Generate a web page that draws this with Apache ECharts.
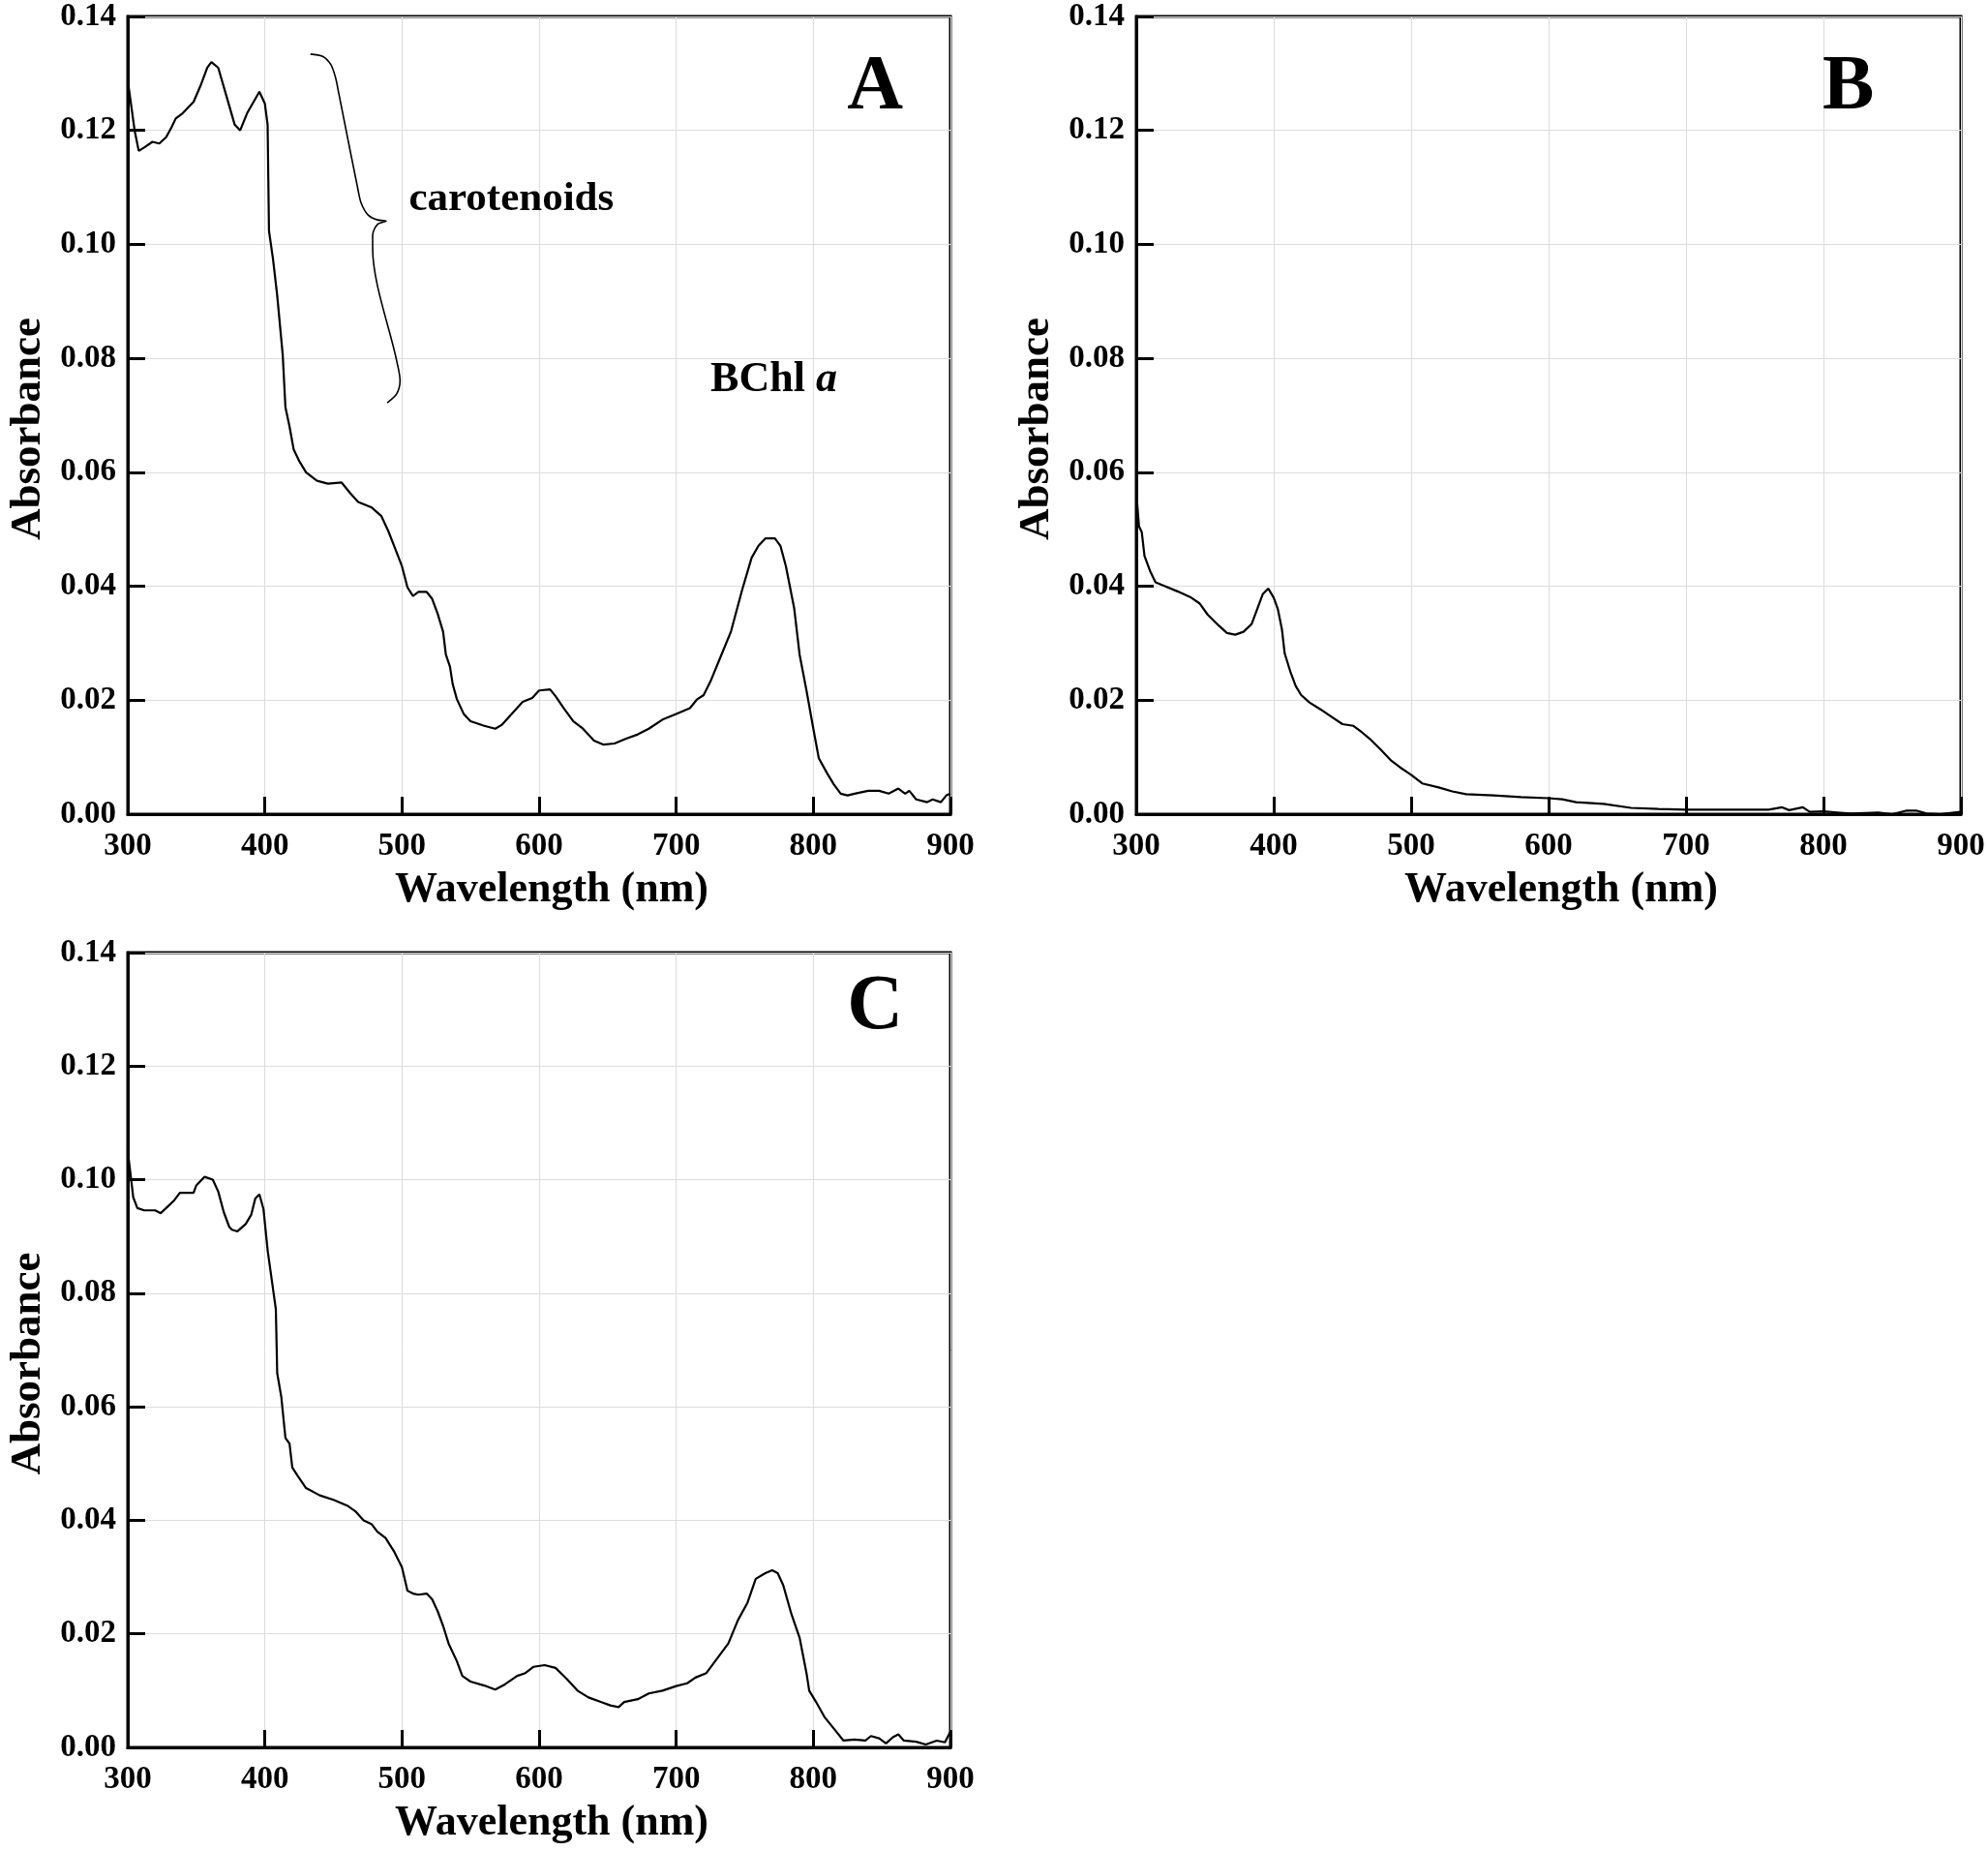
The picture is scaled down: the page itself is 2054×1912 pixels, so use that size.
<!DOCTYPE html>
<html>
<head>
<meta charset="utf-8">
<script src="https://cdn.jsdelivr.net/npm/echarts@6/dist/echarts.min.js"></script>
<style>
  html, body { margin: 0; padding: 0; background: #fff; }
  #chart { width: 2054px; height: 1912px; }
</style>
</head>
<body>
<div id="chart"></div>
<script>
// wavelength (nm), absorbance
const spectrumA = [
  [300, 0.1288], [305, 0.120], [308, 0.1164], [312, 0.117], [318, 0.118], [323, 0.1177],
  [328, 0.1188], [332, 0.1206], [335, 0.1221], [340, 0.123], [348, 0.125], [353, 0.1278],
  [358, 0.131], [361, 0.132], [366, 0.131], [372, 0.126], [378, 0.121], [382, 0.120],
  [387, 0.123], [396, 0.1268], [400, 0.1247], [402, 0.121], [403, 0.1024], [406, 0.0973],
  [409, 0.091], [413, 0.0807], [415, 0.0714], [418, 0.068], [421, 0.064], [425, 0.062],
  [430, 0.060], [438, 0.0585], [446, 0.058], [456, 0.0582], [462, 0.0564], [468, 0.0548],
  [478, 0.0538], [485, 0.0523], [490, 0.0497], [495, 0.0466], [500, 0.0435], [504, 0.0398],
  [508, 0.0383], [512, 0.039], [518, 0.039], [522, 0.0378], [526, 0.0352], [530, 0.032],
  [532, 0.028], [535, 0.0259], [537, 0.0228], [540, 0.0202], [545, 0.0176], [550, 0.0163],
  [560, 0.0155], [568, 0.015], [573, 0.0157], [580, 0.0176], [588, 0.0197], [595, 0.0204],
  [600, 0.0217], [608, 0.0219], [612, 0.0207], [618, 0.0186], [625, 0.0163], [632, 0.015],
  [640, 0.0129], [647, 0.0122], [655, 0.0124], [663, 0.0132], [672, 0.014], [680, 0.015],
  [690, 0.0166], [700, 0.0176], [710, 0.0186], [715, 0.0201], [720, 0.0209], [725, 0.0233],
  [732, 0.0274], [740, 0.0321], [748, 0.0393], [755, 0.045], [760, 0.0471], [765, 0.0484],
  [772, 0.0484], [776, 0.0471], [780, 0.0435], [786, 0.0362], [790, 0.028], [795, 0.0217],
  [800, 0.015], [804, 0.0098], [810, 0.0072], [815, 0.0052], [820, 0.0036], [825, 0.0033],
  [830, 0.0036], [840, 0.0041], [848, 0.0041], [855, 0.0036], [862, 0.0045], [867, 0.0036],
  [870, 0.0041], [875, 0.0026], [883, 0.0021], [887, 0.0026], [893, 0.0021], [897, 0.0033],
  [900, 0.0036]
];

const spectrumB = [
  [300, 0.0565], [302, 0.0505], [304, 0.0495], [306, 0.0453], [310, 0.0427], [314, 0.0407],
  [320, 0.0401], [330, 0.0391], [340, 0.038], [346, 0.037], [352, 0.035], [360, 0.0331],
  [366, 0.0318], [372, 0.0315], [378, 0.032], [384, 0.0334], [388, 0.036], [392, 0.0386],
  [396, 0.0396], [400, 0.038], [403, 0.036], [406, 0.0324], [408, 0.0282], [412, 0.0251],
  [416, 0.0225], [420, 0.0209], [426, 0.0196], [434, 0.0184], [442, 0.0171], [450, 0.0158],
  [458, 0.0155], [464, 0.0144], [470, 0.0132], [478, 0.0113], [485, 0.0095], [492, 0.0082],
  [500, 0.0069], [508, 0.0054], [520, 0.0047], [530, 0.004], [540, 0.0035], [560, 0.0033],
  [580, 0.003], [600, 0.0028], [610, 0.0026], [620, 0.0021], [640, 0.0018], [660, 0.0011],
  [680, 0.0009], [700, 0.0008], [720, 0.0008], [740, 0.0008], [760, 0.0008], [770, 0.0012],
  [775, 0.0007], [785, 0.0012], [790, 0.0004], [800, 0.0005], [810, 0.0003], [820, 0.0001],
  [840, 0.0003], [850, 0.0], [860, 0.0006], [868, 0.0006], [875, 0.0001], [885, 0.0],
  [895, 0.0003], [900, 0.0004]
];

const spectrumC = [
  [300, 0.105], [302, 0.101], [304, 0.0969], [307, 0.095], [312, 0.0946], [320, 0.0946],
  [324, 0.0941], [328, 0.095], [334, 0.0964], [338, 0.0977], [342, 0.0977], [348, 0.0977],
  [350, 0.099], [356, 0.1005], [362, 0.100], [366, 0.0979], [370, 0.0943], [374, 0.0917],
  [376, 0.0912], [380, 0.0909], [386, 0.0922], [390, 0.0938], [393, 0.0967], [396, 0.0974],
  [399, 0.0948], [402, 0.0876], [405, 0.0824], [408, 0.0772], [409, 0.0659], [412, 0.0617],
  [415, 0.0545], [418, 0.0535], [420, 0.0493], [424, 0.0478], [430, 0.0457], [440, 0.0444],
  [450, 0.0436], [460, 0.0426], [466, 0.0416], [472, 0.040], [478, 0.0393], [482, 0.038],
  [488, 0.0369], [494, 0.0346], [500, 0.0317], [504, 0.0276], [508, 0.0271], [512, 0.0269],
  [518, 0.0271], [522, 0.0261], [526, 0.024], [530, 0.0214], [534, 0.0183], [540, 0.0152],
  [544, 0.0126], [550, 0.0116], [560, 0.0109], [568, 0.0102], [575, 0.0111], [584, 0.0126],
  [590, 0.0131], [596, 0.0142], [604, 0.0145], [612, 0.014], [620, 0.0121], [628, 0.010],
  [636, 0.0088], [645, 0.008], [652, 0.0074], [658, 0.0071], [662, 0.008], [672, 0.0085],
  [680, 0.0095], [690, 0.010], [700, 0.0108], [708, 0.0113], [714, 0.0123], [722, 0.0131],
  [730, 0.0157], [738, 0.0183], [745, 0.0224], [752, 0.0255], [758, 0.0297], [765, 0.0307],
  [770, 0.0312], [774, 0.0307], [778, 0.0286], [784, 0.0235], [790, 0.0193], [795, 0.0131],
  [797, 0.010], [802, 0.008], [808, 0.0054], [816, 0.003], [822, 0.0012], [830, 0.0014],
  [838, 0.0012], [842, 0.002], [848, 0.0016], [853, 0.0007], [858, 0.0018], [862, 0.0023],
  [866, 0.0012], [875, 0.001], [882, 0.0005], [890, 0.0012], [896, 0.0009], [900, 0.0028]
];

// curly brace next to "carotenoids" in panel A
const braceA = [
  [433.2, 0.1334], [442.1, 0.1330], [448.0, 0.1316], [451.5, 0.1293], [453.9, 0.1265],
  [468.0, 0.1095], [470.3, 0.1072], [475.1, 0.1052], [482.1, 0.1043], [488.5, 0.1041],
  [482.1, 0.1035], [478.6, 0.1016], [478.6, 0.0993], [496.2, 0.0795], [498.6, 0.0761],
  [496.2, 0.0738], [489.2, 0.0722]
];

const panelNames = ['A', 'B', 'C'];
const xTicks = { min: 300, max: 900, interval: 100 };
const yTicks = { min: 0, max: 0.14, interval: 0.02 };

const font = 'Liberation Serif';
const black = '#000';

const grids = [
  { left: 132, top: 17, width: 850, height: 824 },
  { left: 1174, top: 17, width: 852, height: 824 },
  { left: 132, top: 984, width: 850, height: 821 },
];

const xAxes = grids.map((_, i) => ({
  type: 'value',
  gridIndex: i,
  ...xTicks,
  name: 'Wavelength (nm)',
  nameLocation: 'middle',
  nameGap: 57,
  nameTextStyle: {
    fontFamily: font, fontWeight: 'bold', fontSize: 44, color: black,
    padding: [0, 0, 0, 26],
  },
  axisLine: { show: true, onZero: false, lineStyle: { color: black, width: 3 } },
  axisTick: { show: true, inside: true, length: 18, lineStyle: { color: black, width: 3 } },
  axisLabel: { fontFamily: font, fontWeight: 'bold', fontSize: 33, color: black, margin: 17 },
  splitLine: { show: true, lineStyle: { color: '#dcdcdc', width: 1 } },
}));

const yAxes = grids.map((_, i) => ({
  type: 'value',
  gridIndex: i,
  ...yTicks,
  name: 'Absorbance',
  nameLocation: 'middle',
  nameGap: 80,
  nameTextStyle: {
    fontFamily: font, fontWeight: 'bold', fontSize: 45, color: black,
    padding: [0, 28, 0, 0],
  },
  axisLine: { show: true, onZero: false, lineStyle: { color: black, width: 3 } },
  axisTick: { show: true, inside: true, length: 18, lineStyle: { color: black, width: 3 } },
  axisLabel: {
    fontFamily: font, fontWeight: 'bold', fontSize: 33, color: black, margin: 12,
    formatter: (v) => v.toFixed(2),
  },
  splitLine: { show: true, lineStyle: { color: '#dcdcdc', width: 1 } },
}));

function spectrum(data, i) {
  return {
    type: 'line',
    xAxisIndex: i,
    yAxisIndex: i,
    data,
    showSymbol: false,
    lineStyle: { color: black, width: 2.2 },
    z: 3,
  };
}

function note(i, point, text, opts) {
  return {
    type: 'scatter',
    xAxisIndex: i,
    yAxisIndex: i,
    symbolSize: 0,
    silent: true,
    itemStyle: { opacity: 1 },
    data: [point],
    label: {
      show: true,
      formatter: text,
      fontFamily: font,
      fontWeight: 'bold',
      color: black,
      opacity: 1,
      ...opts,
    },
    z: 5,
  };
}

const letterPos = [[845, 0.1273], [818, 0.1273], [845, 0.1303]];

const option = {
  backgroundColor: '#fff',
  animation: false,
  grid: grids.map((g) => ({ ...g, show: true, borderColor: black, borderWidth: 3, backgroundColor: 'transparent' })),
  xAxis: xAxes,
  yAxis: yAxes,
  series: [
    spectrum(spectrumA, 0),
    spectrum(spectrumB, 1),
    spectrum(spectrumC, 2),
    {
      type: 'line',
      xAxisIndex: 0,
      yAxisIndex: 0,
      data: braceA,
      smooth: 0.3,
      showSymbol: false,
      lineStyle: { color: black, width: 1.6 },
    },
    note(0, [505, 0.1079], 'carotenoids', { position: 'right', distance: 0, fontSize: 43 }),
    note(0, [725, 0.0761], 'BChl {i|a}', {
      position: 'right', distance: 0, fontSize: 44,
      rich: { i: { fontFamily: font, fontWeight: 'bold', fontStyle: 'italic', fontSize: 44, color: black } },
    }),
    ...panelNames.map((n, i) => note(i, letterPos[i], n, { position: 'inside', fontSize: 80 })),
  ],
};

const chart = echarts.init(document.getElementById('chart'));
chart.setOption(option);
</script>
</body>
</html>
